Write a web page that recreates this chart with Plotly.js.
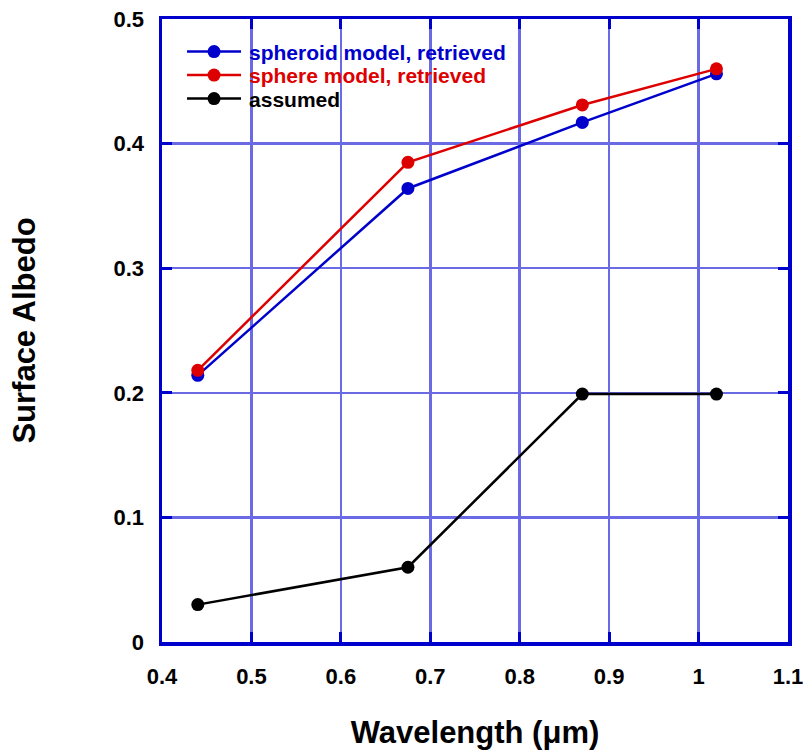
<!DOCTYPE html>
<html>
<head>
<meta charset="utf-8">
<script src="https://cdn.plot.ly/plotly-3.0.1.min.js"></script>
<style>html,body{margin:0;padding:0;background:#fff;}#chart{width:803px;height:750px;}</style>
</head>
<body>
<div id="chart"></div>
<script>
const wavelengths = [0.44, 0.675, 0.87, 1.02];
const spheroidRetrieved = [0.214, 0.364, 0.417, 0.456];
const sphereRetrieved = [0.218, 0.385, 0.431, 0.460];
const assumed = [0.030, 0.060, 0.199, 0.199];
const seriesNames = ["spheroid model, retrieved", "sphere model, retrieved", "assumed"];
const xTicks = [0.4, 0.5, 0.6, 0.7, 0.8, 0.9, 1, 1.1];
const xTickLabels = ["0.4", "0.5", "0.6", "0.7", "0.8", "0.9", "1", "1.1"];
const yTicks = [0, 0.1, 0.2, 0.3, 0.4, 0.5];
const yTickLabels = ["0", "0.1", "0.2", "0.3", "0.4", "0.5"];

const FONT = "Arial, 'Liberation Sans', Helvetica, sans-serif";
const colors = ["#0000cc", "#dd0000", "#000000"];
const ys = [spheroidRetrieved, sphereRetrieved, assumed];

const traces = ys.map((y, i) => ({
  x: wavelengths,
  y: y,
  type: "scatter",
  mode: "lines+markers",
  name: '<span style="color:' + colors[i] + '">' + seriesNames[i] + '</span>',
  line: {color: colors[i], width: 2.5},
  marker: {color: colors[i], size: 13}
}));
const data = [traces[2], traces[0], traces[1]];
data[0].legendrank = 3; data[1].legendrank = 1; data[2].legendrank = 2;

const axisCommon = {
  showgrid: true,
  gridcolor: "#6a6ae4",
  gridwidth: 2.5,
  zeroline: false,
  showline: true,
  linecolor: "#0000cc",
  linewidth: 3.5,
  mirror: "allticks",
  ticks: "inside",
  ticklen: 10,
  tickwidth: 3,
  tickcolor: "#0000cc",
  ticklabeloverflow: "allow",
  tickfont: {family: FONT, size: 22, color: "#000", weight: "bold"}
};

const layout = {
  width: 803,
  height: 750,
  margin: {l: 162, r: 15, t: 19, b: 108},
  paper_bgcolor: "#fff",
  plot_bgcolor: "#fff",
  showlegend: true,
  legend: {
    x: 0.032, y: 0.980, xanchor: "left", yanchor: "top",
    bgcolor: "rgba(255,255,255,0)",
    font: {family: FONT, size: 21, weight: "bold"},
    tracegroupgap: 0,
    itemwidth: 57,
    traceorder: "normal"
  },
  xaxis: Object.assign({}, axisCommon, {
    range: [0.4, 1.1],
    tickmode: "array",
    tickvals: xTicks,
    ticktext: xTickLabels,
    ticklabelstandoff: 12,
    title: {text: "Wavelength (μm)", font: {family: FONT, size: 31, color: "#000", weight: "bold"}, standoff: 36}
  }),
  yaxis: Object.assign({}, axisCommon, {
    range: [0, 0.5],
    tickmode: "array",
    tickvals: yTicks,
    ticktext: yTickLabels,
    ticklabelstandoff: 10,
    title: {text: "Surface Albedo", font: {family: FONT, size: 31, color: "#000", weight: "bold"}, standoff: 69}
  })
};

Plotly.newPlot("chart", data, layout, {displayModeBar: false, staticPlot: true}).then(gd => {
  // legend sample styling: longer line, marker centred on it, tighter rows
  const items = gd.querySelectorAll(".legend .traces");
  const first = items.length ? (items[0].getAttribute("transform") || "").match(/translate\(([-\d.]+),\s*([-\d.]+)\)/) : null;
  items.forEach((g, idx) => {
    g.querySelectorAll(".legendlines path").forEach(p => p.setAttribute("d", "M5,0h54"));
    g.querySelectorAll(".legendsymbols .scatterpts").forEach(p => p.setAttribute("transform", "translate(32,0)"));
    const m = (g.getAttribute("transform") || "").match(/translate\(([-\d.]+),\s*([-\d.]+)\)/);
    if (m && first) {
      g.setAttribute("transform", "translate(" + parseFloat(m[1]) + "," + (parseFloat(first[2]) + idx * 23.5) + ")");
    }
  });
  const sb = gd.querySelector(".legend .scrollbox");
  if (sb) sb.removeAttribute("clip-path");
});
</script>
</body>
</html>
